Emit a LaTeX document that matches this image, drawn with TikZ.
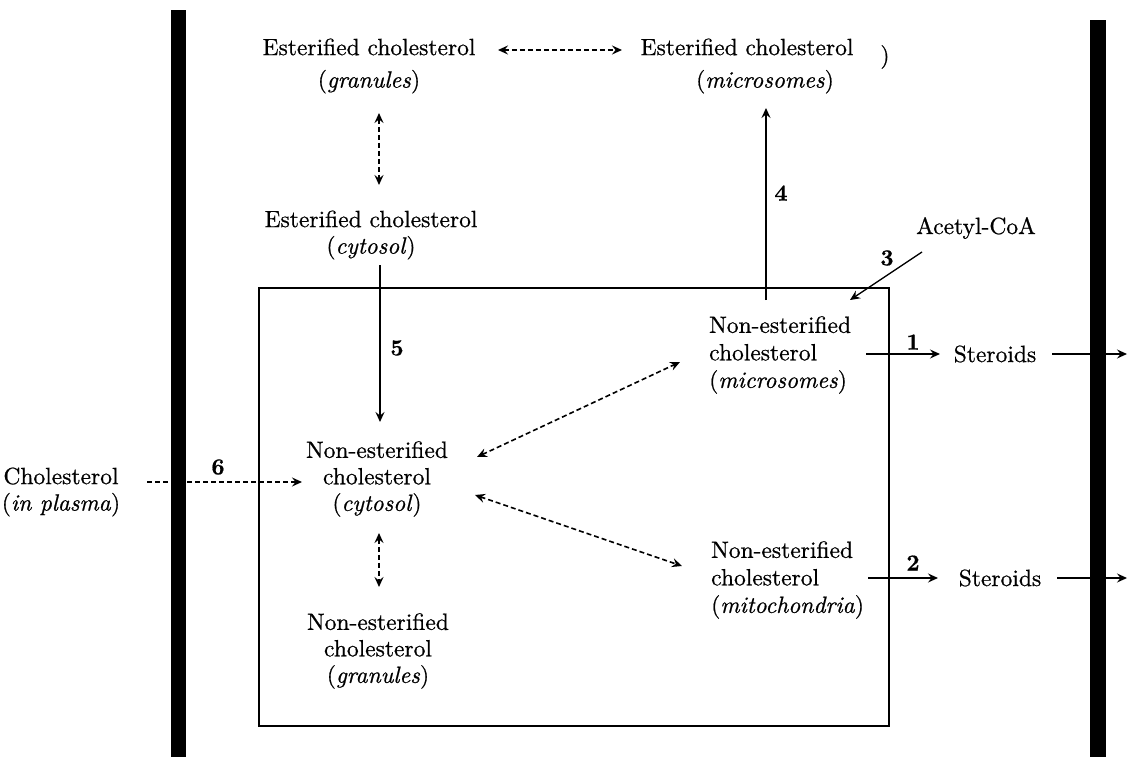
\documentclass[tikz,border=0pt]{standalone}
\usepackage{fontspec}
\setmainfont{lmroman10-regular}[Extension=.otf, ItalicFont=lmroman10-italic, BoldFont=lmroman10-bold, FakeBold=0.7]
\usetikzlibrary{arrows.meta}
\begin{document}
\begin{tikzpicture}[x=1pt,y=-1pt,
  lbl/.style={align=center, inner sep=0pt, font=\fontsize{23.5}{26.5}\selectfont},
  lbll/.style={align=left, inner sep=0pt, anchor=west, font=\fontsize{23.5}{27.5}\selectfont},
  num/.style={inner sep=0pt, font=\fontsize{23}{26}\selectfont\bfseries},
  arr/.style={-{Stealth[length=10pt,width=9pt,inset=3.5pt]}, line width=1.3pt},
  darr/.style={{Stealth[length=10pt,width=9pt,inset=3.5pt]}-{Stealth[length=10pt,width=9pt,inset=3.5pt]}, line width=1.6pt, dash pattern=on 5pt off 3pt},
  dsarr/.style={-{Stealth[length=10pt,width=9pt,inset=3.5pt]}, line width=1.6pt, dash pattern=on 5pt off 3pt},
  bar/.style={fill=black, draw=none},
  cell/.style={draw, line width=1.3pt}]
\useasboundingbox (0,0) rectangle (1128,757);
\fill[white] (0,0) rectangle (1128,757);
% membranes
\path[bar] (171,10) rectangle (186,757);
\path[bar] (1090,20) rectangle (1106,757);
% cell box
\draw[cell] (259,288) rectangle (889,726);
% nodes
\node[lbl] (eg) at (369,66) {Esterified cholesterol\\[6pt](\textit{granules})};
\node[lbl] (em) at (747,66) {Esterified cholesterol\\[6pt]\hspace*{36pt}(\textit{microsomes})};
\node[lbl] (par) at (885,57) {)};
\node[lbl] (ec) at (371,235) {Esterified cholesterol\\(\textit{cytosol})};
\node[lbl] (nc) at (377,479) {Non-esterified\\cholesterol\\(\textit{cytosol})};
\node[lbl] (ng) at (378,651) {Non-esterified\\cholesterol\\(\textit{granules})};
\node[lbl] (chol) at (61,492) {Cholesterol\\(\textit{in plasma})};
\node[lbll] (nm) at (709,355) {Non-esterified\\cholesterol\\(\textit{microsomes})};
\node[lbll] (nmt) at (711,580) {Non-esterified\\cholesterol\\(\textit{mitochondria})};
\node[lbl] (acoa) at (976,228) {Acetyl-CoA};
\node[lbl] (st1) at (995,354) {Steroids};
\node[lbl] (st2) at (1000,578) {Steroids};
% connector end points
\coordinate (egE) at (498,50);  \coordinate (emW) at (622,50);
\coordinate (egS) at (379,113); \coordinate (ecN) at (379,185);
\coordinate (ecS) at (380,265); \coordinate (ncN) at (380,422);
\coordinate (ncS) at (379,533); \coordinate (ngN) at (379,587);
\coordinate (chE) at (147,482); \coordinate (ncW) at (302,482);
\coordinate (ncNE) at (477,457); \coordinate (nmW) at (680,362);
\coordinate (ncSE) at (475,495); \coordinate (nmtW) at (682,566);
\coordinate (nmN) at (766,300); \coordinate (emS) at (766,108);
\coordinate (acS) at (922,252); \coordinate (nmNE) at (850,300);
\coordinate (nmE) at (866,354); \coordinate (st1W) at (940,354);
\coordinate (st1E) at (1052,354); \coordinate (out1) at (1127,354);
\coordinate (nmtE) at (868,578); \coordinate (st2W) at (938,578);
\coordinate (st2E) at (1057,578); \coordinate (out2) at (1127,578);
% connectors
\draw[darr] (egE) -- (emW);
\draw[darr] (egS) -- (ecN);
\draw[arr] (ecS) -- (ncN);
\draw[darr] (ncS) -- (ngN);
\draw[dsarr] (chE) -- (ncW);
\draw[darr] (ncNE) -- (nmW);
\draw[darr] (ncSE) -- (nmtW);
\draw[arr] (nmN) -- (emS);
\draw[arr] (acS) -- (nmNE);
\draw[arr] (nmE) -- (st1W);
\draw[arr] (st1E) -- (out1);
\draw[arr] (nmtE) -- (st2W);
\draw[arr] (st2E) -- (out2);
% numbers
\node[num] (n5) at (397,348) {5};
\node[num] (n4) at (781,193) {4};
\node[num] (n3) at (887,258) {3};
\node[num] (n1) at (913,342) {1};
\node[num] (n2) at (913,563) {2};
\node[num] (n6) at (218,467) {6};
\end{tikzpicture}
\end{document}
